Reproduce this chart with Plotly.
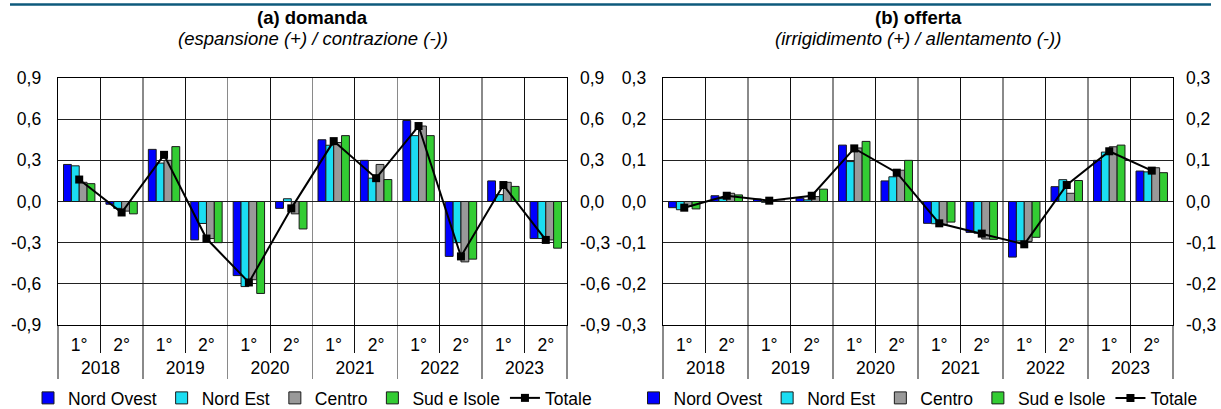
import plotly.graph_objects as go

# ---- data ----
years = ["2018", "2019", "2020", "2021", "2022", "2023"]
halves = ["1°", "2°"]
series_names = ["Nord Ovest", "Nord Est", "Centro", "Sud e Isole", "Totale"]

# (a) domanda
nord_ovest_d = [0.27, -0.02, 0.38, -0.28, -0.54, -0.05, 0.45, 0.30, 0.59, -0.40, 0.15, -0.27]
nord_est_d   = [0.26, -0.05, 0.28, -0.16, -0.62, 0.02, 0.41, 0.17, 0.48, -0.30, 0.05, -0.27]
centro_d     = [0.14, -0.07, 0.30, -0.27, -0.57, -0.09, 0.43, 0.27, 0.55, -0.44, 0.14, -0.28]
sud_d        = [0.13, -0.09, 0.40, -0.30, -0.67, -0.20, 0.48, 0.16, 0.48, -0.42, 0.11, -0.34]
totale_d     = [0.16, -0.08, 0.34, -0.27, -0.59, -0.05, 0.44, 0.17, 0.55, -0.40, 0.12, -0.28]

# (b) offerta
nord_ovest_o = [-0.015, 0.014, 0.006, 0.008, 0.137, 0.050, -0.053, -0.075, -0.135, 0.036, 0.100, 0.074]
nord_est_o   = [-0.020, 0.007, -0.002, 0.004, 0.097, 0.060, -0.054, -0.077, -0.096, 0.053, 0.120, 0.072]
centro_o     = [-0.012, 0.020, 0.002, 0.012, 0.130, 0.076, -0.057, -0.091, -0.097, 0.020, 0.133, 0.082]
sud_o        = [-0.018, 0.016, 0.001, 0.030, 0.146, 0.100, -0.050, -0.092, -0.087, 0.051, 0.137, 0.070]
totale_o     = [-0.015, 0.014, 0.002, 0.014, 0.129, 0.070, -0.053, -0.078, -0.104, 0.040, 0.122, 0.075]

tickvals_d = [-0.9, -0.6, -0.3, 0.0, 0.3, 0.6, 0.9]
ticktext_d = ["-0,9", "-0,6", "-0,3", "0,0", "0,3", "0,6", "0,9"]
tickvals_o = [-0.3, -0.2, -0.1, 0.0, 0.1, 0.2, 0.3]
ticktext_o = ["-0,3", "-0,2", "-0,1", "0,0", "0,1", "0,2", "0,3"]

titles = ["<b>(a) domanda</b>", "<b>(b) offerta</b>"]
subtitles = ["<i>(espansione (+) / contrazione (-))</i>", "<i>(irrigidimento (+) / allentamento (-))</i>"]

# ---- category positions on the x scale (index based) ----
x_half = [h for _ in years for h in halves]
n = len(x_half)
per = len(halves)
xpos = list(range(n))
inner_bounds = [i * per + k + 0.5 for i in range(len(years)) for k in range(per - 1)]
year_centers = [i * per + (per - 1) / 2 for i in range(len(years))]
year_bounds = [i * per - 0.5 for i in range(len(years) + 1)]
xrange = [-0.5, n - 0.5]

# ---- styling ----
colors = ["#0000FF", "#1BDDF2", "#999999", "#33CC33"]
FONT = "Liberation Sans, Arial, sans-serif"
FS = 17.5
W, H = 1221, 409

fig = go.Figure()

panels = [
    ([nord_ovest_d, nord_est_d, centro_d, sud_d], totale_d, "x", "y", "legend", "x3", "y2"),
    ([nord_ovest_o, nord_est_o, centro_o, sud_o], totale_o, "x2", "y3", "legend2", "x4", "y4"),
]
for bars, tot, xa, ya, lg, xov, yov in panels:
    for name, vals, col in zip(series_names[:4], bars, colors):
        fig.add_trace(go.Bar(
            x=xpos, y=vals, name=name, xaxis=xa, yaxis=ya, legend=lg,
            marker=dict(color=col, line=dict(color="#1a1a1a", width=1)),
        ))
    fig.add_trace(go.Scatter(
        x=xpos, y=tot, name=series_names[4], xaxis=xa, yaxis=ya, legend=lg,
        mode="lines+markers",
        line=dict(color="black", width=2),
        marker=dict(symbol="square", size=8, color="black"),
    ))
    # invisible helper trace so the overlay axes (right-hand labels, year row) are drawn
    fig.add_trace(go.Scatter(
        x=xpos, y=tot, xaxis=xov, yaxis=yov, mode="lines", line=dict(width=0),
        opacity=0, showlegend=False, hoverinfo="skip",
    ))

px = lambda v: v / W
py = lambda v: 1 - v / H

xdom1 = [px(58), px(567)]
xdom2 = [px(663), px(1173)]
ydom = [py(325), py(78)]

tfont = dict(family=FONT, size=FS, color="black")

xmain = dict(
    type="linear", range=xrange, tickmode="array", tickvals=xpos, ticktext=x_half,
    ticks="", showgrid=False, zeroline=False, ticklabelstandoff=4,
    minor=dict(tickmode="array", tickvals=inner_bounds, ticks="outside", ticklen=27,
               tickcolor="#111111", tickwidth=1, showgrid=True, gridcolor="#111111", gridwidth=1),
    showline=True, mirror=True, linecolor="black", linewidth=1.3,
    tickfont=tfont, automargin=False, fixedrange=True,
)
xyear = dict(
    type="linear", range=xrange, tickmode="array", tickvals=year_centers, ticktext=years,
    ticks="", showgrid=False, zeroline=False, ticklabelstandoff=30,
    minor=dict(tickmode="array", tickvals=year_bounds, ticks="outside", ticklen=53,
               tickcolor="#8a8a8a", tickwidth=1.4, showgrid=True, gridcolor="#8a8a8a", gridwidth=1.4),
    showline=False, tickfont=tfont, automargin=False, fixedrange=True,
)
ycommon = dict(
    showgrid=True, gridcolor="#222222", gridwidth=1, zeroline=False,
    showline=True, mirror=True, linecolor="black", linewidth=1.3,
    ticks="", ticklabelstandoff=12, tickfont=tfont, automargin=False, fixedrange=True,
)
ysec = dict(showgrid=False, zeroline=False, showline=False, ticks="", ticklabelstandoff=12,
            tickfont=tfont, automargin=False, fixedrange=True)

leg = dict(orientation="h", xref="container", yref="container", xanchor="center",
           y=py(398), yanchor="middle", itemwidth=30, font=tfont,
           bgcolor="rgba(0,0,0,0)", tracegroupgap=0)

fig.update_layout(
    width=W, height=H,
    margin=dict(l=0, r=0, t=0, b=0, autoexpand=False),
    paper_bgcolor="white", plot_bgcolor="white",
    font=dict(family=FONT, size=FS, color="black"),
    barmode="group", bargap=0.26, bargroupgap=0,
    xaxis=dict(domain=xdom1, anchor="y", **xmain),
    xaxis2=dict(domain=xdom2, anchor="y3", **xmain),
    xaxis3=dict(overlaying="x", anchor="y", side="bottom", **xyear),
    xaxis4=dict(overlaying="x2", anchor="y3", side="bottom", **xyear),
    yaxis=dict(domain=ydom, anchor="x", range=[-0.9, 0.9], tickvals=tickvals_d, ticktext=ticktext_d, **ycommon),
    yaxis2=dict(overlaying="y", anchor="x", side="right", range=[-0.9, 0.9],
                tickvals=tickvals_d, ticktext=ticktext_d, **ysec),
    yaxis3=dict(domain=ydom, anchor="x2", range=[-0.3, 0.3], tickvals=tickvals_o, ticktext=ticktext_o, **ycommon),
    yaxis4=dict(overlaying="y3", anchor="x2", side="right", range=[-0.3, 0.3],
                tickvals=tickvals_o, ticktext=ticktext_o, **ysec),
    legend=dict(x=(xdom1[0] + xdom1[1]) / 2, **leg),
    legend2=dict(x=(xdom2[0] + xdom2[1]) / 2, **leg),
    showlegend=True,
)

centers = [(xdom1[0] + xdom1[1]) / 2, (xdom2[0] + xdom2[1]) / 2]
for c, t, s in zip(centers, titles, subtitles):
    fig.add_annotation(x=c, y=py(17), xref="paper", yref="paper", text=t, showarrow=False,
                       font=dict(family=FONT, size=18.5, color="black"), xanchor="center", yanchor="middle")
    fig.add_annotation(x=c, y=py(39), xref="paper", yref="paper", text=s, showarrow=False,
                       font=dict(family=FONT, size=18.5, color="black"), xanchor="center", yanchor="middle")

fig.add_shape(type="line", xref="paper", yref="paper", x0=px(10), x1=px(1211), y0=py(4.5), y1=py(4.5),
              line=dict(color="#0E5A7C", width=2.5))

fig.write_html(
    "out.html",
    config={"displayModeBar": False, "staticPlot": True},
    post_script="document.body.style.margin='0';document.documentElement.style.overflow='hidden';",
)
